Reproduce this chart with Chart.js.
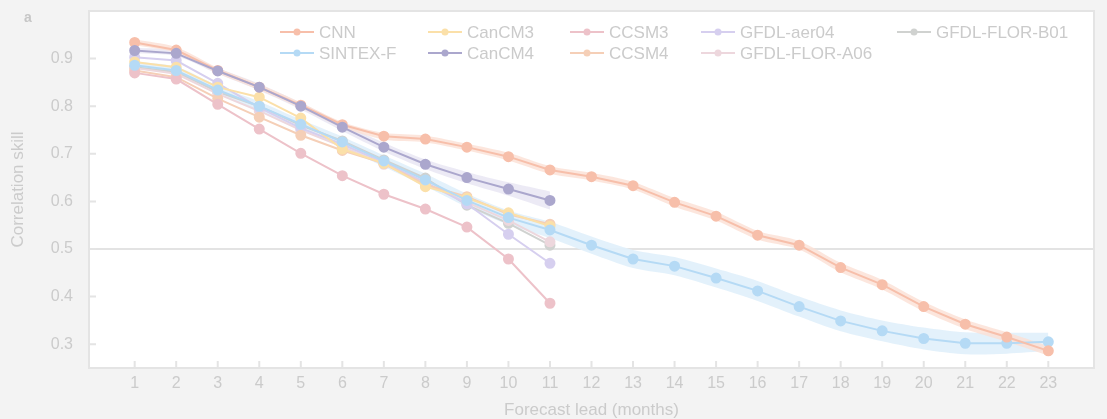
<!DOCTYPE html>
<html><head><meta charset="utf-8">
<script src="https://cdn.jsdelivr.net/npm/chart.js@4/dist/chart.umd.min.js"></script>
<style>html,body{margin:0;padding:0;background:#f3f3f3;}canvas{display:block;}</style>
</head><body>
<canvas id="c" width="1107" height="419"></canvas>
<script>
// ---- data ----
const leads = [1,2,3,4,5,6,7,8,9,10,11,12,13,14,15,16,17,18,19,20,21,22,23];
const yTickValues = [0.3,0.4,0.5,0.6,0.7,0.8,0.9];
const seriesNames = ["CNN","SINTEX-F","CanCM3","CanCM4","CCSM3","CCSM4","GFDL-aer04","GFDL-FLOR-A06","GFDL-FLOR-B01"];
const cnn      = [0.934,0.918,0.875,0.840,0.802,0.761,0.737,0.731,0.714,0.694,0.666,0.652,0.633,0.598,0.569,0.529,0.508,0.461,0.425,0.379,0.342,0.315,0.286];
const sintexF  = [0.886,0.875,0.834,0.800,0.762,0.725,0.685,0.645,0.602,0.566,0.540,0.508,0.479,0.464,0.439,0.412,0.379,0.349,0.328,0.312,0.302,0.302,0.305];
const canCM3   = [0.893,0.882,0.840,0.819,0.775,0.710,0.680,0.631,0.607,0.576,0.548];
const canCM4   = [0.917,0.911,0.874,0.840,0.800,0.756,0.714,0.678,0.650,0.626,0.602];
const ccsm3    = [0.870,0.857,0.804,0.752,0.701,0.654,0.615,0.584,0.546,0.479,0.386];
const ccsm4    = [0.875,0.861,0.816,0.777,0.739,0.707,0.680,0.635,0.610,0.573,0.552];
const gfdlAer04= [0.903,0.896,0.848,0.797,0.754,0.720,0.682,0.640,0.595,0.531,0.470];
const gfdlA06  = [0.880,0.868,0.826,0.790,0.750,0.715,0.678,0.638,0.598,0.560,0.515];
const gfdlB01  = [0.882,0.872,0.830,0.800,0.760,0.727,0.687,0.649,0.592,0.554,0.508];
// half-widths of the shaded spread
const cnnSpread    = [0.006,0.006,0.006,0.006,0.006,0.006,0.007,0.007,0.007,0.008,0.008,0.008,0.008,0.009,0.009,0.009,0.009,0.010,0.010,0.010,0.010,0.010,0.010];
const sintexSpread = [0.008,0.008,0.009,0.010,0.010,0.011,0.012,0.013,0.014,0.015,0.017,0.018,0.019,0.019,0.020,0.021,0.021,0.022,0.022,0.023,0.023,0.022,0.019];
const canCM4Spread = [0.006,0.006,0.006,0.007,0.007,0.008,0.009,0.010,0.012,0.014,0.019];

// ---- styles ----
const lineColors = ["#f7bfaa","#b5daf5","#fbe0a9","#aba7cd","#edc2c9","#f5cfb7","#d6cfef","#edd7dd","#d0d2d0"];
const textColor = "#cbcbcb";
const FONT = "'Liberation Sans', Arial, Helvetica, sans-serif";

const seriesValues = [cnn,sintexF,canCM3,canCM4,ccsm3,ccsm4,gfdlAer04,gfdlA06,gfdlB01];
const toPts = arr => arr.map((v,i)=>({x:leads[i], y:v}));

function band(values, spread, color){
  const up = values.map((v,i)=>({x:leads[i], y:v+spread[i]}));
  const lo = values.map((v,i)=>({x:leads[i], y:v-spread[i]}));
  return [
    {label:'_u', data:up, borderWidth:0, pointRadius:0, fill:'+1', backgroundColor:color, order:20, tension:0.3},
    {label:'_l', data:lo, borderWidth:0, pointRadius:0, fill:false, order:20, tension:0.3}
  ];
}

const datasets = [];
datasets.push(...band(cnn, cnnSpread, 'rgba(251,224,213,0.8)'));
datasets.push(...band(sintexF, sintexSpread, 'rgba(224,239,251,0.9)'));
datasets.push(...band(canCM4, canCM4Spread, 'rgba(234,232,244,0.9)'));
const drawOrder = [1,2,3,0,4,5,6,7,8];
seriesNames.forEach((name,k)=>{
  datasets.push({
    label:name, data:toPts(seriesValues[k]),
    borderColor:lineColors[k], backgroundColor:lineColors[k],
    pointBackgroundColor:lineColors[k], pointBorderColor:lineColors[k],
    borderWidth:2, pointRadius:4.5, pointHoverRadius:4.5, fill:false, tension:0,
    order:drawOrder[k]
  });
});

const decor = {
  id:'decor',
  beforeDraw(chart){
    const {ctx, chartArea:a} = chart;
    ctx.save();
    ctx.fillStyle = '#f3f3f3';
    ctx.fillRect(0,0,chart.width,chart.height);
    ctx.fillStyle = '#ffffff';
    ctx.fillRect(a.left,a.top,a.right-a.left,a.bottom-a.top);
    const y5 = chart.scales.y.getPixelForValue(0.5);
    ctx.strokeStyle = '#e3e3e3'; ctx.lineWidth = 2;
    ctx.beginPath(); ctx.moveTo(a.left,y5); ctx.lineTo(a.right,y5); ctx.stroke();
    ctx.restore();
  },
  afterDraw(chart){
    const {ctx, chartArea:a} = chart;
    ctx.save();
    ctx.strokeStyle = '#e4e4e4'; ctx.lineWidth = 2;
    ctx.strokeRect(a.left,a.top,a.right-a.left,a.bottom-a.top);
    ctx.beginPath();
    leads.forEach(v=>{ const x = chart.scales.x.getPixelForValue(v); ctx.moveTo(x,a.bottom); ctx.lineTo(x,a.bottom-7); });
    yTickValues.forEach(v=>{ const y = chart.scales.y.getPixelForValue(v); ctx.moveTo(a.left,y); ctx.lineTo(a.left+7,y); });
    ctx.stroke();
    ctx.fillStyle = '#c6c6c6';
    ctx.font = 'bold 14px ' + FONT;
    ctx.textBaseline = 'middle'; ctx.textAlign = 'left';
    ctx.fillText('a', 24, 18);
    const colX = [280,428,570,701,897];
    const rowY = [32,53];
    ctx.font = '17px ' + FONT;
    seriesNames.forEach((name,k)=>{
      const col = Math.floor(k/2), row = k%2;
      const x = colX[col], y = rowY[row];
      ctx.strokeStyle = lineColors[k]; ctx.lineWidth = 2;
      ctx.beginPath(); ctx.moveTo(x,y); ctx.lineTo(x+34,y); ctx.stroke();
      ctx.fillStyle = lineColors[k];
      ctx.beginPath(); ctx.arc(x+17,y,3.5,0,Math.PI*2); ctx.fill();
      ctx.fillStyle = textColor;
      ctx.fillText(name, x+39, y+1);
    });
    ctx.restore();
  }
};

new Chart(document.getElementById('c'), {
  type:'line',
  data:{datasets},
  options:{
    responsive:false, animation:false,
    layout:{padding:{left:0,right:13,top:11,bottom:0}},
    plugins:{legend:{display:false}, tooltip:{enabled:false}},
    scales:{
      x:{type:'linear', min:-0.1, max:24.1,
        grid:{display:false}, border:{display:false},
        afterBuildTicks:s=>{ s.ticks = leads.map(v=>({value:v})); },
        afterFit:s=>{ s.height = 51; s.paddingLeft = 0; s.paddingRight = 0; },
        ticks:{color:textColor, font:{family:FONT,size:16}, padding:-2, autoSkip:false, maxRotation:0, callback:v=>String(v)},
        title:{display:true, text:'Forecast lead (months)', color:textColor, font:{family:FONT,size:17}, padding:{top:0,bottom:-2}}
      },
      y:{type:'linear', min:0.25, max:1.0,
        grid:{display:false}, border:{display:false},
        afterBuildTicks:s=>{ s.ticks = yTickValues.map(v=>({value:v})); },
        afterFit:s=>{ s.width = 89; s.paddingTop = 0; s.paddingBottom = 0; },
        ticks:{color:textColor, font:{family:FONT,size:16}, padding:8, callback:v=>Number(v).toFixed(1)},
        title:{display:true, text:'Correlation skill', color:textColor, font:{family:FONT,size:17}, padding:{top:8,bottom:0}}
      }
    }
  },
  plugins:[decor]
});
</script>
</body></html>
